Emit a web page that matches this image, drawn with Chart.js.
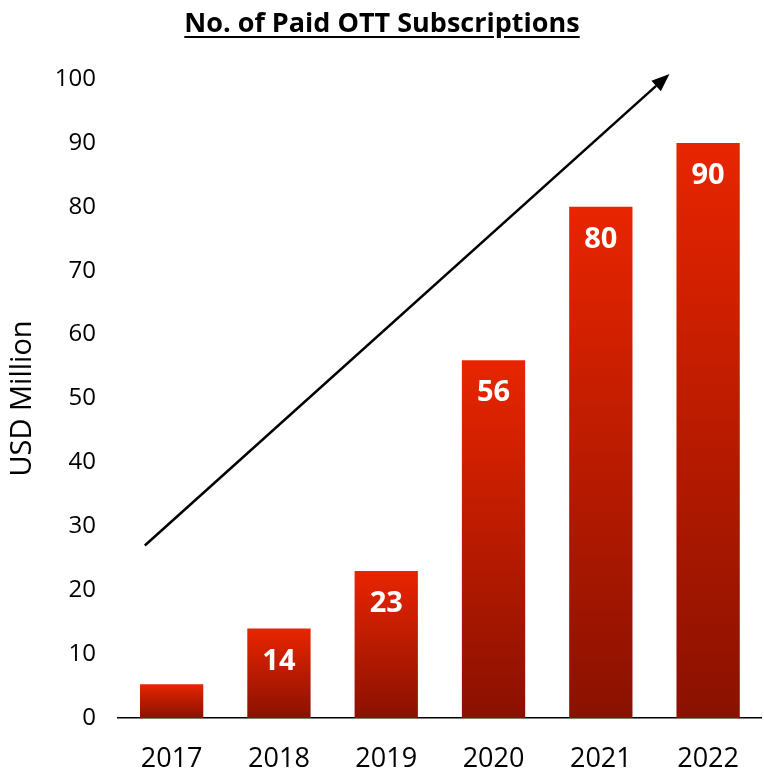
<!DOCTYPE html>
<html>
<head>
<meta charset="utf-8">
<script src="https://cdn.jsdelivr.net/npm/chart.js@4"></script>
<style>
  html, body { margin: 0; padding: 0; background: #fff; }
  #wrap { position: relative; width: 764px; height: 771px; }
  #title {
    position: absolute; left: 0; right: 0; top: 3px;
    text-align: center; font: bold 27px "Open Sans", sans-serif;
    text-decoration: underline; text-underline-offset: 4px; color: #000;
  }
</style>
</head>
<body>
<div id="wrap">
  <div id="title">No. of Paid OTT Subscriptions</div>
  <canvas id="insertchart" width="764" height="771"></canvas>
</div>
<script>
var years = ["2017", "2018", "2019", "2020", "2021", "2022"];
var subscriptions = [5.3, 14, 23, 56, 80, 90];
var yTicks = [0, 10, 20, 30, 40, 50, 60, 70, 80, 90, 100];

// arrow drawn in data space: [category index, value]
var arrowFrom = [-0.25, 27];
var arrowTo = [4.64, 100.8];

function barGradient(c) {
  var chart = c.chart;
  var y = chart.scales.y;
  if (!y || c.dataIndex === undefined) return '#c81c00';
  var top = y.getPixelForValue(c.raw);
  var bottom = y.getPixelForValue(0);
  if (!isFinite(top) || !isFinite(bottom) || top === bottom) return '#c81c00';
  var g = chart.ctx.createLinearGradient(0, top, 0, bottom);
  g.addColorStop(0, '#e82500');
  g.addColorStop(1, '#8a1100');
  return g;
}

var valueLabels = {
  id: 'valueLabels',
  afterDatasetsDraw: function(chart) {
    var ctx = chart.ctx;
    var meta = chart.getDatasetMeta(0);
    ctx.save();
    ctx.fillStyle = '#fff';
    ctx.font = 'bold 29px "Open Sans"';
    ctx.textAlign = 'center';
    ctx.textBaseline = 'middle';
    meta.data.forEach(function(bar, i) {
      var v = subscriptions[i];
      if (v < 10) return;
      ctx.fillText(String(v), bar.x, bar.y + 33);
    });
    ctx.restore();
  }
};

var trendArrow = {
  id: 'trendArrow',
  afterDatasetsDraw: function(chart) {
    var x = chart.scales.x, y = chart.scales.y, ctx = chart.ctx;
    var x1 = x.getPixelForValue(arrowFrom[0]), y1 = y.getPixelForValue(arrowFrom[1]);
    var x2 = x.getPixelForValue(arrowTo[0]), y2 = y.getPixelForValue(arrowTo[1]);
    var ang = Math.atan2(y2 - y1, x2 - x1);
    var head = 18, half = 7;
    ctx.save();
    ctx.strokeStyle = '#000';
    ctx.fillStyle = '#000';
    ctx.lineWidth = 2.5;
    ctx.beginPath();
    ctx.moveTo(x1, y1);
    ctx.lineTo(x2 - head * Math.cos(ang), y2 - head * Math.sin(ang));
    ctx.stroke();
    ctx.beginPath();
    ctx.moveTo(x2, y2);
    ctx.lineTo(x2 - head * Math.cos(ang) + half * Math.sin(ang), y2 - head * Math.sin(ang) - half * Math.cos(ang));
    ctx.lineTo(x2 - head * Math.cos(ang) - half * Math.sin(ang), y2 - head * Math.sin(ang) + half * Math.cos(ang));
    ctx.closePath();
    ctx.fill();
    ctx.restore();
  }
};

var ctx = document.getElementById("insertchart").getContext('2d');
var myChart = new Chart(ctx, {
  type: 'bar',
  data: {
    labels: years,
    datasets: [{
      label: "Paid OTT Subscriptions",
      data: subscriptions,
      backgroundColor: barGradient,
      categoryPercentage: 1,
      barPercentage: 0.59
    }]
  },
  plugins: [valueLabels, trendArrow],
  options: {
    responsive: false,
    animation: false,
    layout: { padding: { top: 79, right: 0, left: 0, bottom: 0 } },
    plugins: {
      legend: { display: false },
      tooltip: { enabled: false },
      title: { display: false }
    },
    scales: {
      x: {
        grid: { display: false, drawTicks: false },
        border: { display: true, color: '#000', width: 1.5 },
        ticks: { color: '#000', font: { family: 'Open Sans', size: 27 }, padding: 25 },
        afterFit: function(s) { s.height = 53; }
      },
      y: {
        min: 0,
        max: 100,
        afterBuildTicks: function(s) { s.ticks = yTicks.map(function(v) { return { value: v }; }); },
        grid: { display: false, drawTicks: false },
        border: { display: false },
        ticks: { color: '#000', font: { family: 'Open Sans', size: 24 }, padding: 22 },
        title: {
          display: true,
          text: 'USD Million',
          color: '#000',
          font: { family: 'Open Sans', size: 29 },
          padding: { top: 5, bottom: 0 }
        },
        afterFit: function(s) { s.width = 118; }
      }
    }
  }
});
</script>
</body>
</html>
